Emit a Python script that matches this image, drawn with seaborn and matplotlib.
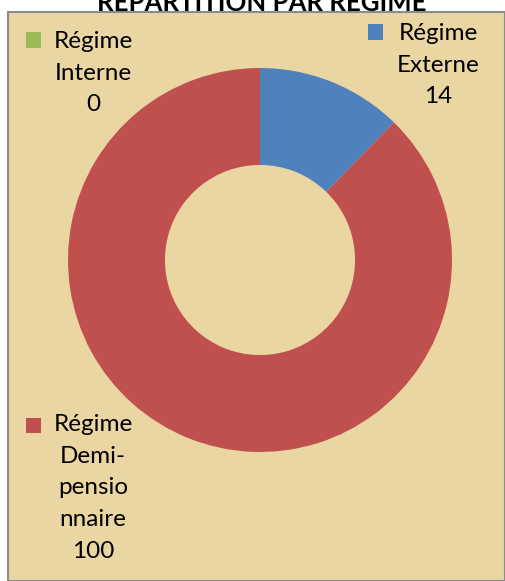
import matplotlib.pyplot as plt
import matplotlib.patches as mpatches
import seaborn as sns

sns.set_style("white")
plt.rcParams['font.family'] = ['Lato', 'DejaVu Sans']

# data
categories = ['Régime Interne', 'Régime Externe', 'Régime Demi-pensionnaire']
label_texts = ['Régime\nInterne\n0', 'Régime\nExterne\n14', 'Régime\nDemi-\npensio\nnnaire\n100']
values = [0, 14, 100]
colors = ['#9BBB59', '#4F81BD', '#C0504D']

W, H = 505, 581
fig = plt.figure(figsize=(W / 100, H / 100), dpi=100)
fig.patch.set_facecolor('white')


def fx(px):
    return px / W


def fy(py):
    return 1 - py / H


# papyrus-like panel
panel = mpatches.Rectangle((fx(8), fy(581)), fx(505) - fx(8), fy(12) - fy(581),
                           transform=fig.transFigure, facecolor='#EAD6A2',
                           edgecolor='#8C8C8C', linewidth=1.5, zorder=-5)
fig.patches.append(panel)

# donut
ax = fig.add_axes([fx(68), fy(452), fx(452) - fx(68), fy(68) - fy(452)])
ax.set_zorder(2)
ax.set_facecolor('none')
ax.pie(values, colors=colors, startangle=90, counterclock=False, radius=1,
       wedgeprops=dict(width=0.505, edgecolor='none'))
ax.set_xlim(-1, 1)
ax.set_ylim(-1, 1)
ax.set_aspect('equal')
ax.axis('off')

# title (clipped at top as in reference)
fig.text(fx(262), fy(11), 'RÉPARTITION PAR RÉGIME', ha='center', va='baseline',
         fontsize=18.5, fontweight='bold', color='black', zorder=3)

# data labels with legend keys
label_pos = [(93, 31, 33, 40), (438, 23, 375, 32), (93, 414, 33, 425)]
for txt, col, (tx, ty, sx, sy) in zip(label_texts, colors, label_pos):
    fig.text(fx(tx), fy(ty), txt, ha='center', va='top', fontsize=17.5,
             linespacing=1.63, color='black', zorder=3)
    sq = mpatches.Rectangle((fx(sx - 7.5), fy(sy + 7.5)), fx(15), 15 / H,
                            transform=fig.transFigure, facecolor=col,
                            edgecolor='none', zorder=3)
    fig.patches.append(sq)

fig.savefig('out.png', dpi=100, facecolor=fig.get_facecolor())
